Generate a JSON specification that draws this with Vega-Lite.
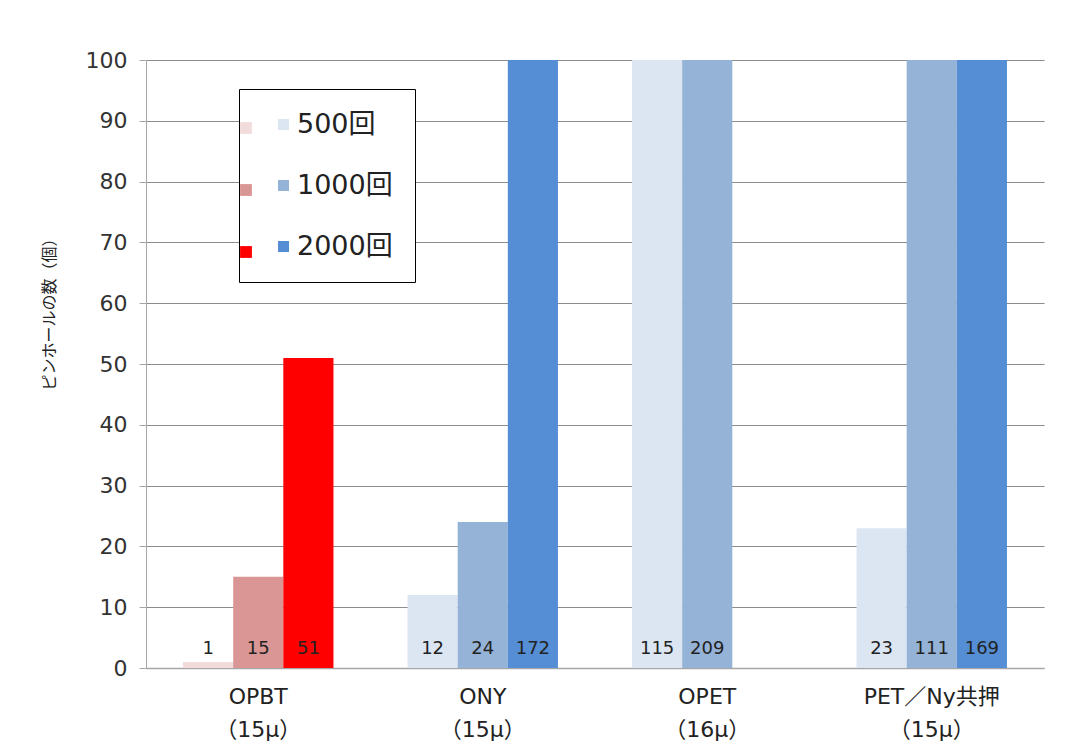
{
  "$schema": "https://vega.github.io/schema/vega-lite/v6.json",
  "width": 898,
  "height": 608,
  "padding": {"left": 41, "top": 49, "right": 40, "bottom": 5},
  "background": "white",
  "config": {
    "font": "DejaVu Sans, Noto Sans CJK JP",
    "view": {"stroke": null},
    "axis": {"labelFont": "DejaVu Sans, Noto Sans CJK JP", "titleFont": "Noto Sans CJK JP"},
    "legend": {"labelFont": "DejaVu Sans, Noto Sans CJK JP"}
  },
  "data": {
    "values": [
      {"フィルム": "OPBT\n（15μ）", "回数": "500回", "個数": 1, "系列": "OPBT"},
      {"フィルム": "OPBT\n（15μ）", "回数": "1000回", "個数": 15, "系列": "OPBT"},
      {"フィルム": "OPBT\n（15μ）", "回数": "2000回", "個数": 51, "系列": "OPBT"},
      {"フィルム": "ONY\n（15μ）", "回数": "500回", "個数": 12, "系列": "other"},
      {"フィルム": "ONY\n（15μ）", "回数": "1000回", "個数": 24, "系列": "other"},
      {"フィルム": "ONY\n（15μ）", "回数": "2000回", "個数": 172, "系列": "other"},
      {"フィルム": "OPET\n（16μ）", "回数": "500回", "個数": 115, "系列": "other"},
      {"フィルム": "OPET\n（16μ）", "回数": "1000回", "個数": 209, "系列": "other"},
      {"フィルム": "PET／Ny共押\n（15μ）", "回数": "500回", "個数": 23, "系列": "other"},
      {"フィルム": "PET／Ny共押\n（15μ）", "回数": "1000回", "個数": 111, "系列": "other"},
      {"フィルム": "PET／Ny共押\n（15μ）", "回数": "2000回", "個数": 169, "系列": "other"}
    ]
  },
  "encoding": {
    "x": {
      "field": "フィルム",
      "type": "nominal",
      "sort": null,
      "scale": {"paddingInner": 0.33, "paddingOuter": 0.165},
      "axis": {
        "title": null,
        "labelAngle": 0,
        "labelExpr": "split(datum.label, '\\n')",
        "labelFontSize": 22,
        "labelColor": "#222222",
        "labelLineHeight": 33,
        "labelPadding": 18,
        "ticks": false,
        "domainColor": "#a6a6a6",
        "domainWidth": 1.5
      }
    },
    "xOffset": {
      "field": "回数",
      "type": "nominal",
      "scale": {"domain": ["500回", "1000回", "2000回"], "paddingInner": 0, "paddingOuter": 0}
    }
  },
  "layer": [
    {
      "transform": [{"filter": "datum['系列'] === 'OPBT'"}],
      "mark": {"type": "bar", "clip": true},
      "encoding": {
        "y": {
          "field": "個数",
          "type": "quantitative",
          "scale": {"domain": [0, 100], "nice": false},
          "axis": {
            "title": "ピンホールの数（個）",
            "titleFontSize": 16,
            "titleFontWeight": "normal",
            "titleColor": "#222222",
            "titlePadding": 28,
            "titleY": 250,
            "values": [0, 10, 20, 30, 40, 50, 60, 70, 80, 90, 100],
            "labelFontSize": 22,
            "labelColor": "#333333",
            "labelPadding": 12,
            "tickSize": 7,
            "tickColor": "#a6a6a6",
            "domainColor": "#a6a6a6",
            "gridColor": "#8c8c8c",
            "gridWidth": 1.2
          }
        },
        "color": {
          "field": "回数",
          "type": "nominal",
          "scale": {"domain": ["500回", "1000回", "2000回"], "range": ["#F2DCDB", "#D99694", "#FF0000"]},
          "legend": {
            "title": null,
            "orient": "none",
            "legendX": 89,
            "legendY": 57,
            "labelExpr": "''",
            "symbolType": "square",
            "symbolSize": 140,
            "symbolStrokeWidth": 0,
            "rowPadding": 40,
            "labelFontSize": 22,
            "zindex": 2
          }
        }
      }
    },
    {
      "transform": [{"filter": "datum['系列'] === 'other'"}],
      "mark": {"type": "bar", "clip": true},
      "encoding": {
        "y": {"field": "個数", "type": "quantitative"},
        "color": {
          "field": "回数",
          "type": "nominal",
          "scale": {"domain": ["500回", "1000回", "2000回"], "range": ["#DCE6F2", "#95B3D7", "#558ED5"]},
          "legend": {
            "title": null,
            "orient": "none",
            "legendX": 93,
            "legendY": 29,
            "symbolType": "square",
            "symbolSize": 121,
            "symbolStrokeWidth": 0,
            "symbolOffset": 9,
            "labelFontSize": 27,
            "labelColor": "#222222",
            "labelOffset": 0,
            "rowPadding": 33,
            "padding": 22,
            "strokeColor": "#000000",
            "fillColor": "#ffffff",
            "zindex": 1
          }
        }
      }
    },
    {
      "mark": {"type": "text", "baseline": "bottom", "dy": -10, "fontSize": 18, "color": "#222222"},
      "encoding": {
        "y": {"datum": 0},
        "text": {"field": "個数", "type": "quantitative"}
      }
    }
  ],
  "resolve": {"scale": {"color": "independent"}}
}
